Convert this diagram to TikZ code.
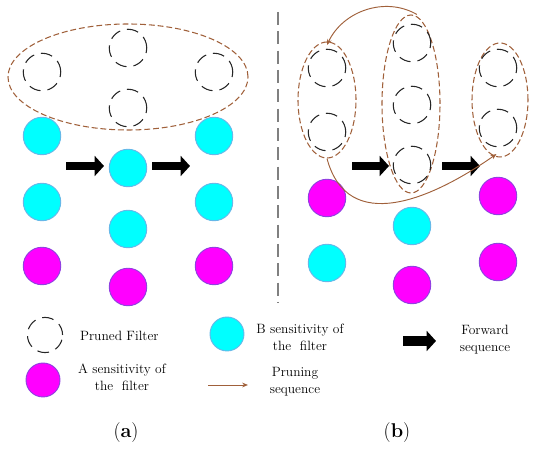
\documentclass[tikz,border=0pt]{standalone}
\usepackage{tikz}
\usetikzlibrary{arrows.meta,shapes.geometric}

\definecolor{cyanfill}{HTML}{00FFFF}
\definecolor{cyanrim}{HTML}{66B8E8}
\definecolor{magfill}{HTML}{FF00FF}
\definecolor{magrim}{HTML}{9040E0}
\definecolor{prunebrown}{HTML}{A0603A}

\tikzset{
  pruned/.style={circle, draw=black!85, line width=0.9pt, dash pattern=on 10pt off 6pt, minimum size=32pt, inner sep=0pt},
  bsens/.style={circle, fill=cyanfill, draw=cyanrim, line width=0.8pt, minimum size=32pt, inner sep=0pt},
  asens/.style={circle, fill=magfill, draw=magrim, line width=0.8pt, minimum size=32pt, inner sep=0pt},
  group/.style={ellipse, draw=prunebrown, line width=0.9pt, dash pattern=on 5pt off 2.5pt, inner sep=0pt},
  fwd/.style={line width=7pt, -{Triangle[length=8pt, width=17pt]}},
  prune/.style={draw=prunebrown, line width=0.8pt, -{Stealth[length=5pt, width=4pt]}},
  legend/.style={align=center, font=\fontsize{11.5}{14.5}\selectfont},
}

\begin{document}
\begin{tikzpicture}[x=0.03cm, y=0.03cm]
\useasboundingbox (0,0) rectangle (550,457);

% (a)
\node [group, minimum width=7.2cm, minimum height=3.18cm] (ga) at (128,380) {};
\node [pruned] (a11) at (42,385) {};
\node [pruned] (a21) at (128,409) {};
\node [pruned] (a22) at (128,349) {};
\node [pruned] (a31) at (214,385) {};
\node [bsens] (a12) at (42,321) {};
\node [bsens] (a13) at (42,255) {};
\node [asens] (a14) at (42,191) {};
\node [bsens] (a23) at (128,289) {};
\node [bsens] (a24) at (128,228) {};
\node [asens] (a25) at (128,170) {};
\node [bsens] (a32) at (214,321) {};
\node [bsens] (a33) at (214,255) {};
\node [asens] (a34) at (214,191) {};
\coordinate (fa1) at (66,291);
\coordinate (fa2) at (104,291);
\coordinate (fa3) at (152,291);
\coordinate (fa4) at (190,291);
\draw [fwd] (fa1) -- (fa2);
\draw [fwd] (fa3) -- (fa4);

\coordinate (sep1) at (278,445);
\coordinate (sep2) at (278,155);
\draw [gray, line width=1.3pt, dash pattern=on 11pt off 5.5pt] (sep1) -- (sep2);

% (b)
\node [group, minimum width=1.74cm, minimum height=3.48cm] (gb1) at (327,357) {};
\node [group, minimum width=1.74cm, minimum height=5.34cm] (gb2) at (411,353) {};
\node [group, minimum width=1.68cm, minimum height=3.42cm] (gb3) at (500,357) {};
\node [pruned] (b11) at (327,389) {};
\node [pruned] (b12) at (327,325) {};
\node [pruned] (b21) at (412,414) {};
\node [pruned] (b22) at (412,352) {};
\node [pruned] (b23) at (412,292) {};
\node [pruned] (b31) at (498,389) {};
\node [pruned] (b32) at (498,329) {};
\node [asens] (b13) at (327,259) {};
\node [bsens] (b14) at (327,194) {};
\node [bsens] (b24) at (412,231) {};
\node [asens] (b25) at (412,172) {};
\node [asens] (b33) at (498,261) {};
\node [asens] (b34) at (498,195) {};
\coordinate (fb1) at (352,291);
\coordinate (fb2) at (389,291);
\coordinate (fb3) at (442,291);
\coordinate (fb4) at (480,291);
\draw [fwd] (fb1) -- (fb2);
\draw [fwd] (fb3) -- (fb4);
\draw [prune] ([xshift=5]gb2.north) to [out=150, in=65] ([yshift=-3]gb1.north);
\draw [prune] (gb1.south) to [out=-75, in=-145, looseness=1.2] ([xshift=-3,yshift=3]gb3.south);

% legend
\node [pruned, minimum size=30pt] (lpf) at (45,122) {};
\node [legend, anchor=west] (tpf) at (76,121) {Pruned Filter};
\node [asens, minimum size=29pt] (la) at (43,77) {};
\node [legend] (ta) at (122,80) {A sensitivity of\\the\ \ filter};
\node [bsens, minimum size=29pt] (lb) at (227,123) {};
\node [legend] (tb) at (300,120) {B sensitivity of\\the\ \ filter};
\coordinate (lp1) at (208,72);
\coordinate (lp2) at (248,72);
\draw [prune] (lp1) -- (lp2);
\node [legend] (tp) at (295,75) {Pruning\\sequence};
\coordinate (lf1) at (403,116);
\coordinate (lf2) at (436,116);
\draw [line width=8pt, -{Triangle[length=8pt, width=17pt]}] (lf1) -- (lf2);
\node [legend] (tf) at (485,117) {Forward\\sequence};

\node [font=\fontsize{17}{20}\selectfont] (capa) at (126,24) {(\textbf{a})};
\node [font=\fontsize{17}{20}\selectfont] (capb) at (397,24) {(\textbf{b})};
\end{tikzpicture}
\end{document}
